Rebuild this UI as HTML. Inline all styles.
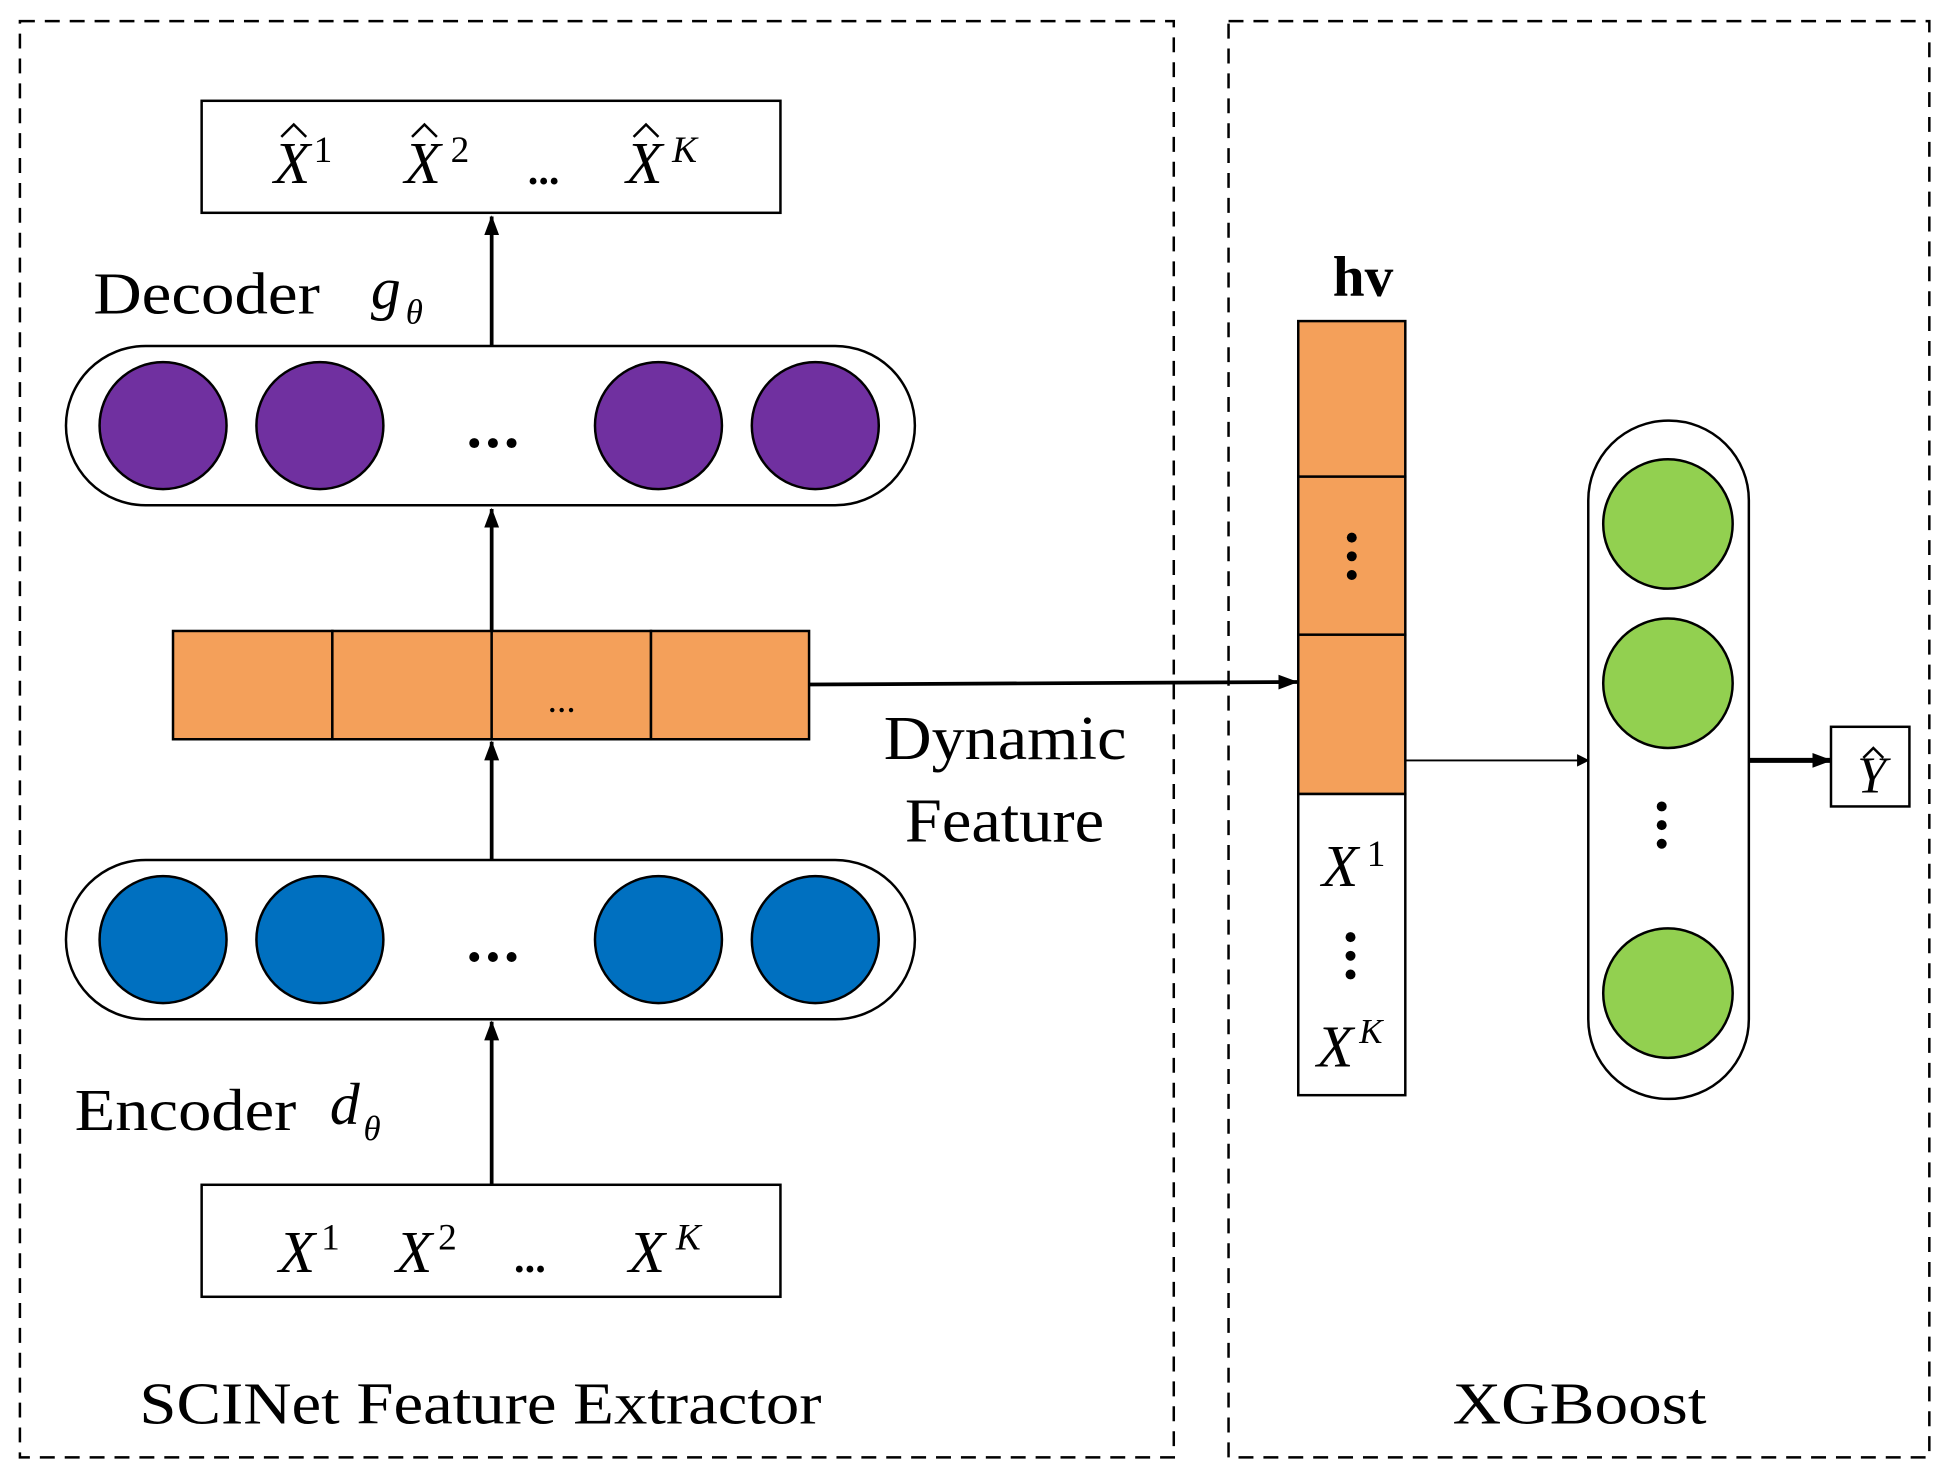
<!DOCTYPE html>
<html><head><meta charset="utf-8"><style>html,body{margin:0;padding:0;background:#fff}svg{display:block}</style></head>
<body>
<svg width="1948" height="1476" viewBox="0 0 1565 1186" preserveAspectRatio="none" xmlns="http://www.w3.org/2000/svg" font-family="Liberation Serif, serif">
<defs><marker id="a" markerWidth="10" markerHeight="10" refX="9" refY="5" orient="auto" markerUnits="userSpaceOnUse" viewBox="0 0 10 10"><path d="M0,0 L10,5 L0,10 z" fill="#000"/></marker>
<marker id="b" markerWidth="16" markerHeight="16" refX="15" refY="8" orient="auto" markerUnits="userSpaceOnUse" viewBox="0 0 16 16"><path d="M0,2 L16,8 L0,14 z" fill="#000"/></marker></defs>
<g fill="none" stroke="#000" stroke-width="2" stroke-dasharray="12,8">
<rect x="16" y="17" width="927" height="1154"/>
<rect x="987" y="17" width="563" height="1154"/>
</g>
<rect x="162" y="81" width="465" height="90" fill="#fff" stroke="#000" stroke-width="2"/>
<g font-style="italic" font-size="48">
<text x="220" y="147">X</text><text x="325" y="147">X</text><text x="503" y="147">X</text>
</g>
<g font-size="30"><text x="252" y="130">1</text><text x="362" y="130">2</text><text x="540" y="130" font-style="italic">K</text></g>
<g fill="none" stroke="#000" stroke-width="2"><path d="M226,110 L236,100 L246,110"/><path d="M331,110 L341,100 L351,110"/><path d="M509,110 L519,100 L529,110"/></g>
<text x="424" y="148" font-size="34" font-weight="bold">...</text>
<text x="75" y="252" font-size="48" textLength="182" lengthAdjust="spacingAndGlyphs">Decoder</text>
<text x="298" y="248" font-size="48" font-style="italic">g</text><text x="326" y="260" font-size="28" font-style="italic">θ</text>
<line x1="395" y1="278" x2="395" y2="174" stroke="#000" stroke-width="3" marker-end="url(#b)"/>
<rect x="53" y="278" width="682" height="128" rx="64" fill="#fff" stroke="#000" stroke-width="2"/>
<g fill="#7030a0" stroke="#000" stroke-width="2">
<circle cx="131" cy="342" r="51"/><circle cx="257" cy="342" r="51"/><circle cx="529" cy="342" r="51"/><circle cx="655" cy="342" r="51"/></g>
<line x1="395" y1="507" x2="395" y2="409" stroke="#000" stroke-width="3" marker-end="url(#b)"/>
<g fill="#f4a05a" stroke="#000" stroke-width="2">
<rect x="139" y="507" width="128" height="87"/><rect x="267" y="507" width="128" height="87"/><rect x="395" y="507" width="128" height="87"/><rect x="523" y="507" width="127" height="87"/></g>
<text x="440" y="572" font-size="30">...</text>
<line x1="395" y1="691" x2="395" y2="596" stroke="#000" stroke-width="3" marker-end="url(#b)"/>
<line x1="650" y1="550" x2="1042" y2="548" stroke="#000" stroke-width="3" marker-end="url(#b)"/>
<text x="710" y="610" font-size="50" textLength="195" lengthAdjust="spacingAndGlyphs">Dynamic</text>
<text x="727" y="676" font-size="50" textLength="160" lengthAdjust="spacingAndGlyphs">Feature</text>
<rect x="53" y="691" width="682" height="128" rx="64" fill="#fff" stroke="#000" stroke-width="2"/>
<g fill="#0070c0" stroke="#000" stroke-width="2">
<circle cx="131" cy="755" r="51"/><circle cx="257" cy="755" r="51"/><circle cx="529" cy="755" r="51"/><circle cx="655" cy="755" r="51"/></g>
<g fill="#000"><circle cx="381" cy="356" r="4"/><circle cx="396" cy="356" r="4"/><circle cx="411" cy="356" r="4"/>
<circle cx="381" cy="769" r="4"/><circle cx="396" cy="769" r="4"/><circle cx="411" cy="769" r="4"/></g>
<line x1="395" y1="952" x2="395" y2="821" stroke="#000" stroke-width="3" marker-end="url(#b)"/>
<text x="60" y="908" font-size="48" textLength="178" lengthAdjust="spacingAndGlyphs">Encoder</text>
<text x="265" y="903" font-size="48" font-style="italic">d</text><text x="292" y="916" font-size="28" font-style="italic">θ</text>
<rect x="162" y="952" width="465" height="90" fill="#fff" stroke="#000" stroke-width="2"/>
<g font-style="italic" font-size="48"><text x="224" y="1022">X</text><text x="318" y="1022">X</text><text x="505" y="1022">X</text></g>
<g font-size="30"><text x="258" y="1004">1</text><text x="352" y="1004">2</text><text x="543" y="1004" font-style="italic">K</text></g>
<text x="413" y="1022" font-size="34" font-weight="bold">...</text>
<text x="112" y="1144" font-size="48" textLength="548" lengthAdjust="spacingAndGlyphs">SCINet Feature Extractor</text>
<text x="1095" y="238" font-size="46" font-weight="bold" text-anchor="middle">hv</text>
<g fill="#f4a05a" stroke="#000" stroke-width="2">
<rect x="1043" y="258" width="86" height="125"/><rect x="1043" y="383" width="86" height="127"/><rect x="1043" y="510" width="86" height="128"/></g>
<rect x="1043" y="638" width="86" height="242" fill="#fff" stroke="#000" stroke-width="2"/>
<g fill="#000"><circle cx="1086" cy="432" r="4"/><circle cx="1086" cy="447" r="4"/><circle cx="1086" cy="462" r="4"/>
<circle cx="1085" cy="753" r="4"/><circle cx="1085" cy="768" r="4"/><circle cx="1085" cy="783" r="4"/></g>
<text x="1062" y="712" font-size="48" font-style="italic">X</text><text x="1098" y="696" font-size="30">1</text>
<text x="1058" y="857" font-size="48" font-style="italic">X</text><text x="1092" y="838" font-size="28" font-style="italic">K</text>
<line x1="1129" y1="611" x2="1276" y2="611" stroke="#000" stroke-width="1.5" marker-end="url(#a)"/>
<rect x="1276" y="338" width="129" height="545" rx="64" fill="#fff" stroke="#000" stroke-width="2"/>
<g fill="#92d050" stroke="#000" stroke-width="2">
<circle cx="1340" cy="421" r="52"/><circle cx="1340" cy="549" r="52"/><circle cx="1340" cy="798" r="52"/></g>
<g fill="#000"><circle cx="1335" cy="648" r="4"/><circle cx="1335" cy="663" r="4"/><circle cx="1335" cy="678" r="4"/></g>
<line x1="1405" y1="611" x2="1471" y2="611" stroke="#000" stroke-width="4" marker-end="url(#b)"/>
<rect x="1471" y="584" width="63" height="64" fill="#fff" stroke="#000" stroke-width="2"/>
<text x="1492" y="637" font-size="42" font-style="italic">Y</text>
<path d="M1497,609 L1505,601 L1513,609" fill="none" stroke="#000" stroke-width="2"/>
<text x="1167" y="1144" font-size="48" textLength="204" lengthAdjust="spacingAndGlyphs">XGBoost</text>
</svg>
</body></html>
